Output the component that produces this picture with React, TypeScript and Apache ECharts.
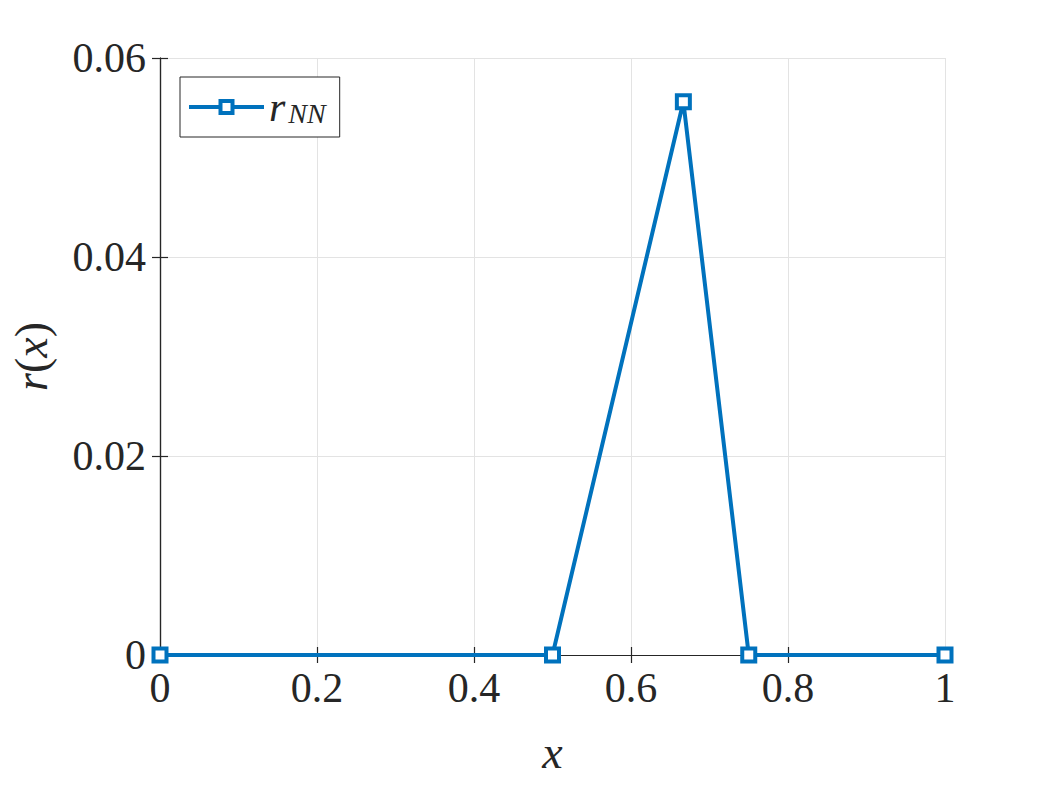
import React, { useEffect, useRef } from "react";
import * as echarts from "echarts";

const xValues = [0, 0.5, 0.6667, 0.75, 1];
const rValues = [0, 0, 0.0556, 0, 0];
const xTicks = [0, 0.2, 0.4, 0.6, 0.8, 1];
const yTicks = [0, 0.02, 0.04, 0.06];
const seriesName = "r_NN";

const FONT = "Liberation Serif";
const TXT = "#262626";
const BLUE = "#0072BD";

export default function App() {
  const ref = useRef<HTMLDivElement>(null);
  useEffect(() => {
    if (!ref.current) return;
    const chart = echarts.init(ref.current, null, { renderer: "svg" });
    const data = xValues.map((x, i) => [x, rValues[i]]);
    const fmtX = (v: number) => {
      const t = xTicks.find((k) => Math.abs(k - v) < 1e-9);
      return t === undefined ? "" : String(t);
    };
    const fmtY = (v: number) => {
      const t = yTicks.find((k) => Math.abs(k - v) < 1e-9);
      return t === undefined ? "" : String(t);
    };
    const axisLine = { show: true, lineStyle: { color: TXT, width: 1.2 } };
    const tick = { show: true, inside: true, length: 8, lineStyle: { color: TXT, width: 1.2 } };
    chart.setOption({
      animation: false,
      backgroundColor: "#ffffff",
      textStyle: { fontFamily: FONT, color: TXT },
      grid: { left: 160, top: 58, width: 785, height: 597, show: false },
      legend: {
        show: true,
        left: 180,
        top: 77,
        orient: "horizontal",
        itemWidth: 75,
        itemHeight: 15,
        itemGap: 10,
        padding: [9, 14, 9, 7],
        backgroundColor: "#ffffff",
        borderColor: TXT,
        borderWidth: 1,
        borderRadius: 0,
        lineStyle: { width: 4, color: BLUE },
        itemStyle: { color: "#ffffff", borderColor: BLUE, borderWidth: 4 },
        formatter: () => "{a|r}{b|NN}",
        textStyle: {
          fontFamily: FONT,
          color: TXT,
          rich: {
            a: { fontFamily: FONT, fontStyle: "italic", fontSize: 42, color: TXT, lineHeight: 40, verticalAlign: "middle" },
            b: { fontFamily: FONT, fontStyle: "italic", fontSize: 28, color: TXT, lineHeight: 16, verticalAlign: "bottom", padding: [0, 0, 0, 3] },
          },
        },
        data: [seriesName],
      },
      xAxis: [
        {
          type: "value",
          min: 0,
          max: 1,
          interval: 0.2,
          position: "bottom",
          axisLine,
          axisTick: tick,
          splitLine: { show: true, lineStyle: { color: "#e3e3e3", width: 1 } },
          axisLabel: { formatter: fmtX, fontFamily: FONT, fontSize: 42, color: TXT, margin: 12 },
          name: "{i|x}",
          nameLocation: "middle",
          nameGap: 74,
          nameTextStyle: {
            rich: { i: { fontFamily: FONT, fontStyle: "italic", fontSize: 46, color: TXT } },
          },
        },
        {
          type: "value",
          min: 0,
          max: 1,
          interval: 0.2,
          position: "top",
          axisLine,
          axisTick: tick,
          splitLine: { show: false },
          axisLabel: { show: false },
        },
      ],
      yAxis: [
        {
          type: "value",
          min: 0,
          max: 0.06,
          interval: 0.02,
          position: "left",
          axisLine,
          axisTick: tick,
          splitLine: { show: true, lineStyle: { color: "#e3e3e3", width: 1 } },
          axisLabel: { formatter: fmtY, fontFamily: FONT, fontSize: 42, color: TXT, margin: 14 },
          name: "{i|r}{n|(}{i|x}{n|)}",
          nameLocation: "middle",
          nameRotate: 90,
          nameGap: 106,
          nameTextStyle: {
            rich: {
              i: { fontFamily: FONT, fontStyle: "italic", fontSize: 46, color: TXT },
              n: { fontFamily: FONT, fontSize: 46, color: TXT },
            },
          },
        },
        {
          type: "value",
          min: 0,
          max: 0.06,
          interval: 0.02,
          position: "right",
          axisLine,
          axisTick: tick,
          splitLine: { show: false },
          axisLabel: { show: false },
        },
      ],
      series: [
        {
          name: seriesName,
          type: "line",
          data,
          xAxisIndex: 0,
          yAxisIndex: 0,
          lineStyle: { color: BLUE, width: 4 },
          symbol: "rect",
          symbolSize: 13,
          showAllSymbol: true,
          itemStyle: { color: "#ffffff", borderColor: BLUE, borderWidth: 4 },
          clip: false,
          z: 3,
        },
      ],
    });
    return () => chart.dispose();
  }, []);
  return (
    <div
      ref={ref}
      style={{ position: "fixed", left: 0, top: 0, width: 1046, height: 785, background: "#fff" }}
    />
  );
}
